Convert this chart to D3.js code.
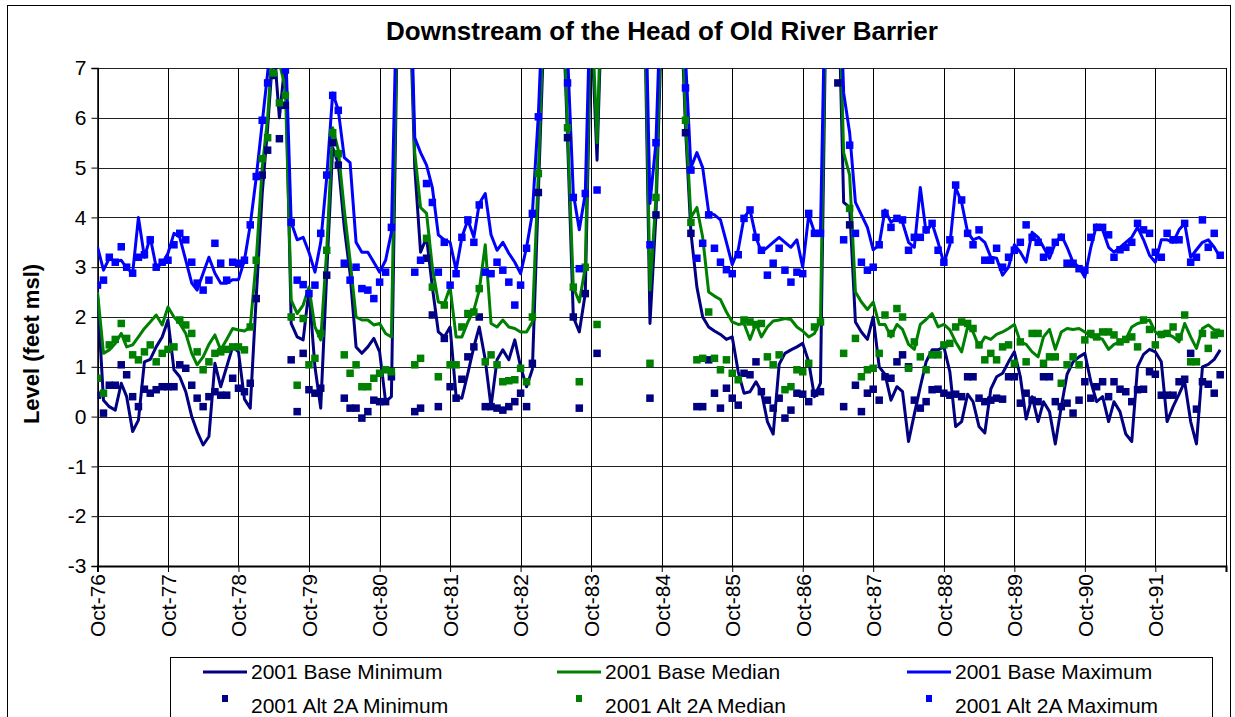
<!DOCTYPE html>
<html><head><meta charset="utf-8">
<script src="https://cdn.jsdelivr.net/npm/d3@7"></script>
<style>body{margin:0;background:#fff}svg{display:block;font-family:Arial,"Liberation Sans",sans-serif}</style>
</head><body><svg id="c" width="1235" height="717"></svg>
<script>
const title = "Downstream of the Head of Old River Barrier";
const yLabel = "Level (feet msl)";
const yTicks = [-3,-2,-1,0,1,2,3,4,5,6,7];
const xTickYears = [1976,1977,1978,1979,1980,1981,1982,1983,1984,1985,1986,1987,1988,1989,1990,1991];
const seriesNames = ["2001 Base Minimum","2001 Base Median","2001 Base Maximum","2001 Alt 2A Minimum","2001 Alt 2A Median","2001 Alt 2A Maximum"];

// monthly values, Oct-76 .. Sep-92
const baseMin = [
2.45,0.33,0.2,0.13,0.67,0.4,-0.3,-0.07,1.1,1.15,1.4,1.6,
1.94,0.94,0.8,0.5,0.0,-0.3,-0.57,-0.4,1.07,0.6,1.0,1.4,
1.3,0.35,0.17,2.4,4.48,5.8,7.5,6.0,7.2,1.87,1.6,1.54,
2.54,1.0,0.17,2.87,5.4,5.08,3.8,2.87,1.4,1.27,1.4,1.57,
1.3,0.3,0.4,8,10,9,5.0,3.3,3.6,2.6,1.7,1.6,
1.8,0.4,0.37,0.87,1.4,1.8,1.14,0.2,1.14,1.34,1.14,1.54,
1.0,0.6,0.95,4.5,8,9,10,9,5.6,2.0,1.7,2.47,
8,5.15,9,10,11,10,10,11,10,9,1.87,4.05,
8,10,11,9,5.8,3.7,2.6,2.0,1.8,1.72,1.65,1.55,
1.6,0.9,0.47,0.5,0.7,0.5,-0.1,-0.35,1.05,1.27,1.34,1.4,
1.47,1.1,0.4,0.67,9,10,9,4.3,4.2,1.9,1.7,1.55,
2.0,1.0,0.85,0.33,0.6,0.5,-0.5,0.05,0.6,1.1,1.34,1.34,
1.4,0.9,-0.2,-0.1,0.45,0.3,-0.2,-0.33,0.55,0.8,0.87,1.1,
1.3,0.8,-0.05,0.4,-0.1,0.3,0.1,-0.55,0.2,0.85,1.1,1.2,
1.27,0.7,0.3,0.4,-0.1,0.3,0.1,-0.35,-0.5,1.0,1.25,1.35,
1.3,1.1,-0.1,0.2,0.45,0.7,-0.1,-0.55,1.0,1.05,1.15,1.34];
const baseMed = [
2.5,1.27,1.34,1.47,1.67,1.4,1.44,1.6,1.77,1.9,2.04,1.84,
2.2,2.0,1.87,1.67,1.27,1.04,1.2,1.45,1.64,1.34,1.55,1.77,
1.74,1.72,1.8,3.14,5.0,6.0,7.8,7.1,6.6,2.34,2.07,2.24,
2.6,1.8,1.54,3.34,5.8,5.35,4.15,3.14,2.0,1.94,1.94,1.84,
1.87,1.67,1.6,8.5,10.5,9.5,5.3,4.2,4.08,3.0,2.3,2.27,
2.6,1.6,1.6,1.9,2.14,2.54,3.45,1.87,1.8,1.94,1.8,1.77,
1.7,1.7,1.9,4.9,8.5,9.5,10.5,9.5,5.8,2.6,2.3,3.0,
8.5,5.5,9.5,10.5,11.5,10.5,10.5,11.5,10.5,9.5,2.54,4.4,
8.5,10.5,11.5,9.5,6.0,4.0,4.2,3.6,2.5,2.42,2.35,2.1,
1.9,1.85,1.87,1.55,1.87,1.6,1.8,1.92,1.94,1.97,1.95,1.8,
1.72,1.6,1.67,1.94,9.5,10.5,9.5,5.3,4.85,2.5,2.3,2.15,
2.3,1.85,1.85,1.6,1.85,1.75,1.45,1.35,1.85,1.95,2.07,1.8,
1.85,1.74,1.5,1.3,1.8,1.7,1.4,1.6,1.55,1.65,1.7,1.77,
1.85,1.5,1.45,1.3,1.2,1.6,1.75,1.35,1.7,1.77,1.75,1.77,
1.7,1.6,1.6,1.55,1.35,1.45,1.5,1.55,1.8,1.87,1.9,1.94,
1.7,1.6,1.67,1.6,1.5,1.87,1.6,1.37,1.77,1.84,1.74,1.74];
const baseMax = [
3.41,2.94,3.18,3.11,3.14,2.98,2.88,4.0,3.2,3.6,3.0,3.07,
3.28,3.68,3.6,3.14,2.68,2.54,2.88,3.2,2.88,2.68,2.68,2.75,
2.75,3.14,3.85,4.8,5.9,6.9,8.0,7.5,7.6,3.9,3.55,3.6,
3.3,2.9,3.5,4.8,6.5,6.15,5.2,5.1,3.5,3.3,3.3,3.1,
2.9,3.14,3.7,9,11,10,5.6,5.3,5.05,4.6,3.65,3.55,
3.5,2.94,3.6,3.95,3.6,4.28,4.48,3.65,3.34,3.5,3.28,3.1,
2.87,3.4,4.08,6.06,9,10,11,10,7.3,4.48,3.75,4.48,
9,7.8,10,11,12,11,11,12,11,10,4.28,5.5,
9,11,12,10,7.2,5.0,5.3,5.0,4.1,4.05,3.95,3.5,
3.05,3.35,4.0,4.15,3.6,3.3,3.4,3.5,3.6,3.5,3.4,3.55,
3.0,4.05,3.7,3.7,10,11,10,6.5,5.7,4.3,4.05,3.8,
3.35,3.45,4.15,3.9,4.0,3.9,3.5,3.4,4.6,3.7,3.88,3.5,
3.08,3.45,4.6,4.3,3.7,3.55,3.6,3.5,3.2,3.18,2.84,3.0,
3.45,3.3,3.1,3.7,3.6,3.4,3.18,3.48,3.65,3.4,3.1,3.0,
2.8,3.4,3.85,3.75,3.4,3.3,3.4,3.5,3.6,3.8,3.55,3.24,
3.1,3.55,3.55,3.5,3.75,3.88,3.2,3.35,3.5,3.55,3.4,3.2];
const altMin = [
0.43,0.07,0.63,0.63,1.04,0.84,0.4,0.2,0.55,0.47,0.54,0.6,
0.6,0.6,1.04,0.97,0.63,0.37,0.2,0.4,0.5,0.43,0.43,0.77,
0.57,0.5,0.67,2.37,4.85,5.35,6.85,5.58,6.25,1.14,0.1,1.27,
0.54,0.47,0.57,2.84,5.5,5.05,0.37,0.17,0.17,-0.03,0.1,0.33,
0.3,0.3,0.8,9,9,9,0.1,0.17,3.18,2.04,0.2,1.57,
0.6,0.37,0.75,1.2,1.4,2.0,0.2,0.2,0.17,0.13,0.2,0.3,
0.47,0.2,1.07,4.5,9,9,9,9,5.6,2.0,0.17,2.47,
9,1.27,9,9,9,9,9,9,9,9,0.37,4.05,
9,9,9,9,5.7,3.68,0.2,0.2,1.14,0.47,0.17,0.57,
0.37,0.23,0.87,0.84,1.1,0.5,0.33,0.17,0.37,-0.03,0.13,0.47,
0.45,0.3,0.47,0.5,9,9,6.7,0.2,3.85,0.63,0.1,0.47,
0.55,0.33,0.8,0.77,1.1,1.24,1.0,0.33,0.17,0.3,0.54,0.55,
0.47,0.43,0.45,0.4,0.8,0.8,0.37,0.3,0.33,0.37,0.35,0.8,
0.8,0.27,0.47,0.33,0.3,0.8,0.8,0.3,0.2,0.27,0.07,0.33,
0.7,0.37,0.6,0.7,0.4,0.7,0.55,0.5,0.3,0.54,0.55,0.9,
0.85,0.43,0.43,0.43,0.7,0.75,1.27,0.15,0.7,0.65,0.47,0.84];
const altMed = [
0.77,0.47,1.44,1.55,1.87,1.57,1.24,1.14,1.3,1.44,1.1,1.27,
1.35,1.4,1.94,1.84,1.67,1.3,0.94,1.1,1.27,1.3,1.35,1.4,
1.4,1.34,1.8,3.14,5.18,5.6,6.9,6.3,6.45,2.0,0.63,1.97,
1.04,1.17,1.67,3.34,5.7,5.28,1.24,0.87,1.04,0.6,0.6,0.77,
0.87,0.94,0.9,9,9,9,1.04,1.17,3.58,2.6,0.8,2.24,
1.04,1.04,1.8,2.07,2.1,2.57,1.1,1.24,1.04,0.7,0.72,0.74,
0.97,0.7,2.0,4.88,9,9,9,9,5.8,2.6,0.7,3.0,
9,1.85,9,9,9,9,9,9,9,9,1.07,4.4,
9,9,9,9,5.95,3.9,1.14,1.17,2.1,1.17,0.94,1.14,
0.87,0.74,1.94,1.9,1.85,1.87,1.2,1.04,1.24,0.54,0.6,0.94,
0.9,1.07,1.8,1.9,9,9,9,1.27,4.18,1.57,0.8,0.94,
0.97,1.27,2.04,1.67,2.17,2.0,0.97,1.5,1.2,0.94,1.24,1.24,
1.44,1.47,1.8,1.9,1.87,1.77,1.44,1.14,1.27,1.14,1.4,1.44,
1.07,1.5,1.1,1.67,1.67,1.07,1.2,1.2,0.67,1.04,1.2,1.04,
1.54,1.67,1.6,1.7,1.7,1.64,1.5,1.55,1.6,1.4,1.94,1.75,
1.44,1.65,1.67,1.8,1.6,2.04,1.1,1.1,1.67,1.37,1.64,1.67];
const altMax = [
2.64,2.74,3.2,3.1,3.41,3.0,2.88,3.2,3.25,3.55,3.0,3.1,
3.14,3.45,3.68,3.55,3.1,2.68,2.54,2.74,3.48,3.08,2.74,3.1,
3.08,3.14,3.85,4.82,5.95,6.7,7.5,7.3,6.96,3.9,2.74,2.65,
2.47,2.64,3.68,4.85,6.45,6.15,3.08,2.74,3.0,2.57,2.54,2.37,
2.7,2.9,3.8,9,9,9,2.9,3.14,4.68,4.3,2.9,3.5,
2.64,2.87,3.6,3.95,3.5,4.25,2.9,2.87,3.1,2.94,2.7,2.24,
2.64,3.38,4.08,6.02,9,9,9,9,6.7,4.4,2.97,4.48,
9,4.55,9,9,9,9,9,9,9,9,3.45,5.5,
9,9,9,9,6.6,4.95,3.18,3.48,4.05,3.38,3.1,2.95,
2.87,3.25,3.98,4.15,3.6,3.34,2.84,3.08,3.38,2.94,2.7,2.9,
2.87,4.08,3.68,3.68,9,9,9,3.55,5.45,3.68,3.1,2.94,
3.0,3.45,4.08,3.8,3.98,3.95,3.34,3.6,3.6,3.75,3.88,3.34,
3.1,3.55,4.65,4.35,3.68,3.45,3.75,3.14,3.14,3.38,3.0,3.2,
3.34,3.5,3.85,3.6,3.5,3.2,3.34,3.5,3.6,3.08,3.08,2.97,
2.94,3.6,3.8,3.8,3.65,3.2,3.35,3.4,3.5,3.88,3.75,3.68,
3.3,3.2,3.68,3.55,3.55,3.88,3.1,3.2,3.95,3.4,3.68,3.24];

const months = d3.range(baseMin.length).map(i => new Date(1976, 9 + i, 1));
const colors = ["#000080","#008000","#0000FF"];
const FONT = "Arial, 'Liberation Sans', sans-serif";

const svg = d3.select("#c");
const L = 97.5, R = 1226, T = 68, B = 566;
const x = d3.scaleTime().domain([new Date(1976,9,1), new Date(1992,9,1)]).range([L, R]);
const y = d3.scaleLinear().domain([-3, 7]).range([B, T]);

// outer frame
svg.append("rect").attr("x",7.5).attr("y",5.5).attr("width",1223).attr("height",730)
  .attr("fill","none").attr("stroke","#000").attr("stroke-width",1);

// title
svg.append("text").attr("x",662).attr("y",40).attr("text-anchor","middle")
  .attr("font-size",26).attr("font-weight","bold").text(title);

// gridlines
const g = svg.append("g").attr("shape-rendering","crispEdges");
g.selectAll(".hg").data(yTicks.filter(v => v > -3)).join("line")
  .attr("x1",L).attr("x2",R).attr("y1",d=>Math.round(y(d))+0.5).attr("y2",d=>Math.round(y(d))+0.5)
  .attr("stroke","#222").attr("stroke-width",1);
const tickDates = xTickYears.map(yr => new Date(yr, 9, 1));
g.selectAll(".vg").data(tickDates.concat([new Date(1992,9,1)])).join("line")
  .attr("x1",d=>Math.round(x(d))+0.5).attr("x2",d=>Math.round(x(d))+0.5).attr("y1",T).attr("y2",B)
  .attr("stroke","#000").attr("stroke-width",1);

// axes
const yAxis = svg.append("g").attr("transform",`translate(${L},0)`)
  .call(d3.axisLeft(y).tickValues(yTicks).tickSize(6).tickPadding(5).tickFormat(d => String(d)));
yAxis.select(".domain").attr("stroke","#000").attr("stroke-width",1.5);
yAxis.selectAll("text").attr("font-size",21).attr("font-family",FONT).attr("fill","#000");

const xAxis = svg.append("g").attr("transform",`translate(0,${B})`)
  .call(d3.axisBottom(x).tickValues(tickDates).tickSize(6).tickFormat(d3.timeFormat("%b-%y")));
xAxis.select(".domain").attr("stroke","#000").attr("stroke-width",2);
xAxis.selectAll("text").attr("font-size",21).attr("font-family",FONT).attr("fill","#000")
  .attr("transform","rotate(-90)").attr("text-anchor","end").attr("x",-8).attr("y",0).attr("dy","0.35em");

// y label
svg.append("text").attr("transform","translate(39,344) rotate(-90)").attr("text-anchor","middle")
  .attr("font-size",22).attr("font-weight","bold").text(yLabel);

// clip
svg.append("clipPath").attr("id","clip").append("rect").attr("x",L).attr("y",T).attr("width",R-L).attr("height",B-T);
const plot = svg.append("g").attr("clip-path","url(#clip)");

const line = d3.line().x((d,i)=>x(months[i])).y(d=>y(d));
[baseMin, baseMed, baseMax].forEach((s,k) => {
  plot.append("path").datum(s).attr("d",line).attr("fill","none")
    .attr("stroke",colors[k]).attr("stroke-width",3).attr("stroke-linejoin","round");
});
const ms = 7.5;
[altMin, altMed, altMax].forEach((s,k) => {
  plot.append("g").selectAll("rect").data(s).join("rect")
    .attr("x",(d,i)=>x(months[i]) - ms/2).attr("y",d=>y(d) - ms/2)
    .attr("width",ms).attr("height",ms).attr("fill",colors[k]);
});

// legend
const lg = svg.append("g");
lg.append("rect").attr("x",170.5).attr("y",657.5).attr("width",1042).attr("height",80)
  .attr("fill","#fff").attr("stroke","#000").attr("stroke-width",1);
const colX = [203, 557, 907];
seriesNames.forEach((name,k) => {
  const c = k % 3, row = Math.floor(k/3);
  const cy = row === 0 ? 672 : 706;
  if (row === 0) {
    lg.append("line").attr("x1",colX[c]).attr("x2",colX[c]+44).attr("y1",cy).attr("y2",cy)
      .attr("stroke",colors[c]).attr("stroke-width",3);
  } else {
    lg.append("rect").attr("x",colX[c]+22-3).attr("y",cy-11).attr("width",6).attr("height",7).attr("fill",colors[c]);
  }
  lg.append("text").attr("x",colX[c]+48).attr("y",cy).attr("dy","0.35em")
    .attr("font-size",21).text(name);
});
</script></body></html>
